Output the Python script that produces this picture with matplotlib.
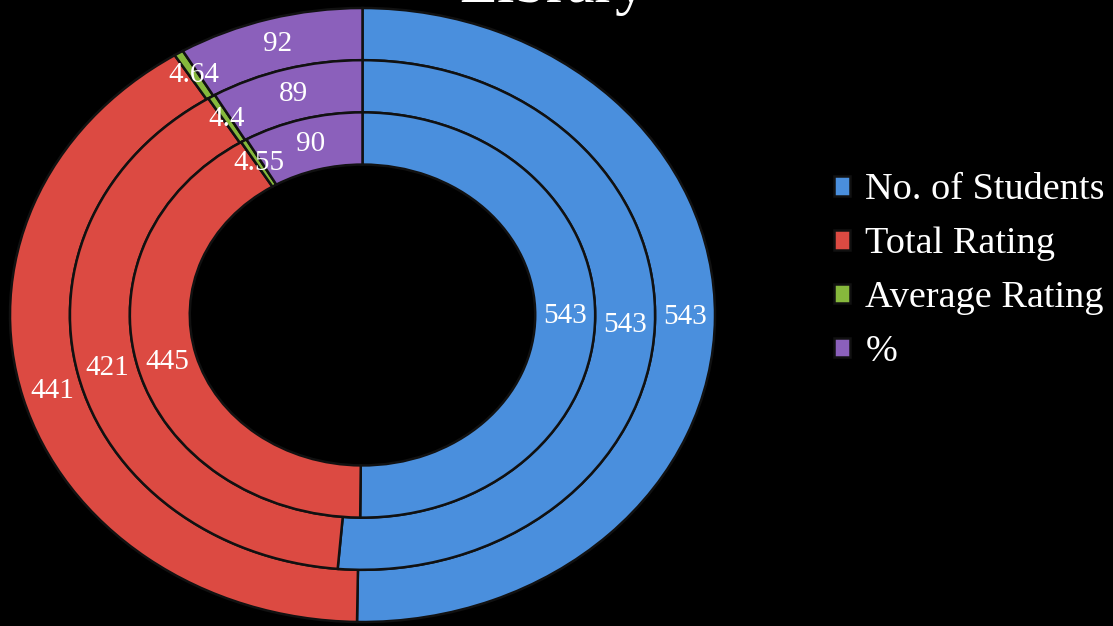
import numpy as np
import matplotlib.pyplot as plt

# categories and ring values (outer -> inner)
categories = ['No. of Students', 'Total Rating', 'Average Rating', '%']
outer_vals = [543, 441, 4.64, 92]
middle_vals = [543, 421, 4.4, 89]
inner_vals = [543, 445, 4.55, 90]
title = 'Library'

colors = ['#4a8fdd', '#dc4a42', '#86b83c', '#8b60bb']
serif = 'Liberation Serif'

fig = plt.figure(figsize=(11.13, 6.26), dpi=100, facecolor='black')
ax = fig.add_axes([10 / 1113, 4 / 626, 705 / 1113, 614 / 626])
ax.set_facecolor('black')

width = 0.17
rings = [(outer_vals, 1.0), (middle_vals, 0.83), (inner_vals, 0.66)]
handles = None
for vals, r in rings:
    wedges, _ = ax.pie(vals, radius=r, startangle=90, counterclock=False,
                       colors=colors,
                       wedgeprops=dict(width=width, edgecolor='#111111', linewidth=1.8))
    if handles is None:
        handles = wedges
    rm = r - width / 2
    for w, v in zip(wedges, vals):
        ang = np.deg2rad((w.theta1 + w.theta2) / 2)
        ax.text(rm * np.cos(ang), rm * np.sin(ang), f'{v:g}', ha='center', va='center',
                color='white', fontsize=21, family=serif)

ax.set_aspect('auto')
ax.set_xlim(-1, 1)
ax.set_ylim(-1, 1)
ax.axis('off')

fig.legend(handles, categories, loc='center left',
           bbox_to_anchor=(815 / 1113, 1 - 271 / 626), frameon=False,
           prop={'family': serif, 'size': 27.5}, labelcolor='white',
           handlelength=0.42, handleheight=0.42, handletextpad=0.4,
           labelspacing=0.51, borderpad=0)

fig.text(553 / 1113, 1 - 2 / 626, title, ha='center', va='baseline',
         fontsize=45, family=serif, color='white')

fig.savefig('out.png', dpi=100, facecolor='black')
